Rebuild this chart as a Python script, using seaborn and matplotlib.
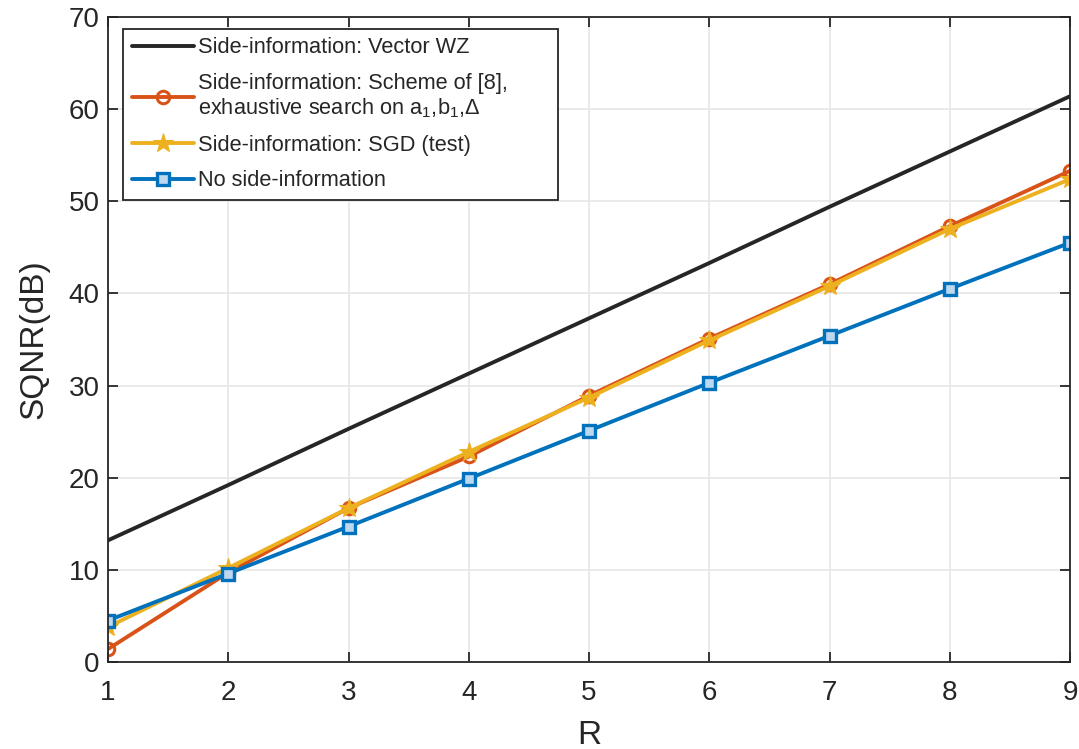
import numpy as np
import pandas as pd
import matplotlib
matplotlib.use("Agg")
import matplotlib.pyplot as plt
import seaborn as sns

R = [1, 2, 3, 4, 5, 6, 7, 8, 9]
vector_wz = [13.2, 19.2, 25.3, 31.3, 37.3, 43.3, 49.4, 55.4, 61.4]
scheme8 = [1.4, 9.7, 16.7, 22.3, 28.9, 35.1, 41.0, 47.3, 53.3]
sgd_test = [3.8, 10.2, 16.7, 22.8, 28.7, 34.9, 40.8, 47.0, 52.4]
no_si = [4.5, 9.6, 14.7, 19.9, 25.1, 30.3, 35.4, 40.5, 45.5]

labels = [
    "Side-information: Vector WZ",
    "Side-information: Scheme of [8],\nexhaustive search on a$_1$,b$_1$,$\\Delta$",
    "Side-information: SGD (test)",
    "No side-information",
]
x_ticks = [1, 2, 3, 4, 5, 6, 7, 8, 9]
y_ticks = [0, 10, 20, 30, 40, 50, 60, 70]

sns.set_theme(style="whitegrid")
plt.rcParams['font.family'] = ['Liberation Sans', 'DejaVu Sans']
plt.rcParams['mathtext.fontset'] = 'custom'
plt.rcParams['mathtext.rm'] = 'Liberation Sans'
plt.rcParams['mathtext.it'] = 'Liberation Sans'

fig = plt.figure(figsize=(10.79, 7.49), dpi=100)
ax = fig.add_axes([0.1001, 0.1162, 0.8916, 0.8611])

black = "#262626"
orange = "#D95319"
yellow = "#EDB120"
blue = "#0072BD"

sns.lineplot(x=R, y=vector_wz, ax=ax, color=black, lw=2.8, label=labels[0])
sns.lineplot(x=R, y=scheme8, ax=ax, color=orange, lw=2.8, marker='o', markersize=9,
             markerfacecolor='none', markeredgecolor=orange, markeredgewidth=2.2, label=labels[1])
sns.lineplot(x=R, y=sgd_test, ax=ax, color=yellow, lw=2.8, marker='*', markersize=15,
             markerfacecolor=yellow, markeredgecolor=yellow, label=labels[2])
sns.lineplot(x=R, y=no_si, ax=ax, color=blue, lw=2.8, marker='s', markersize=8,
             markerfacecolor='#bcd7ee', markeredgecolor=blue, markeredgewidth=2.4, label=labels[3])

ax.set_xlim(1, 9)
ax.set_ylim(0, 70)
ax.set_xticks(x_ticks)
ax.set_yticks(y_ticks)
ax.set_facecolor("white")
ax.grid(True, color="#e6e6e6", lw=1.2)
for s in ax.spines.values():
    s.set_visible(True)
    s.set_color("#262626")
    s.set_linewidth(1.3)
ax.tick_params(axis='both', which='both', direction='in', length=7, width=1.3,
               colors="#262626", labelsize=20, left=True, bottom=True, right=True, top=True)
ax.tick_params(axis='x', pad=13)
ax.tick_params(axis='y', pad=6)
ax.set_xlabel("R", fontsize=24, color="#262626", labelpad=10)
ax.set_ylabel("SQNR(dB)", fontsize=24, color="#262626", labelpad=14)

leg = ax.legend(loc='upper left', bbox_to_anchor=(0.0156, 0.0, 0.452, 0.982), mode='expand',
                fontsize=15.7, frameon=True, fancybox=False, edgecolor="#262626", framealpha=1,
                borderpad=0.4, labelspacing=0.67, handlelength=2.85, handletextpad=0.2,
                borderaxespad=0)
leg.get_frame().set_linewidth(1.3)
leg.get_texts()[1].set_linespacing(1.15)

fig.savefig("out.png", dpi=100)
